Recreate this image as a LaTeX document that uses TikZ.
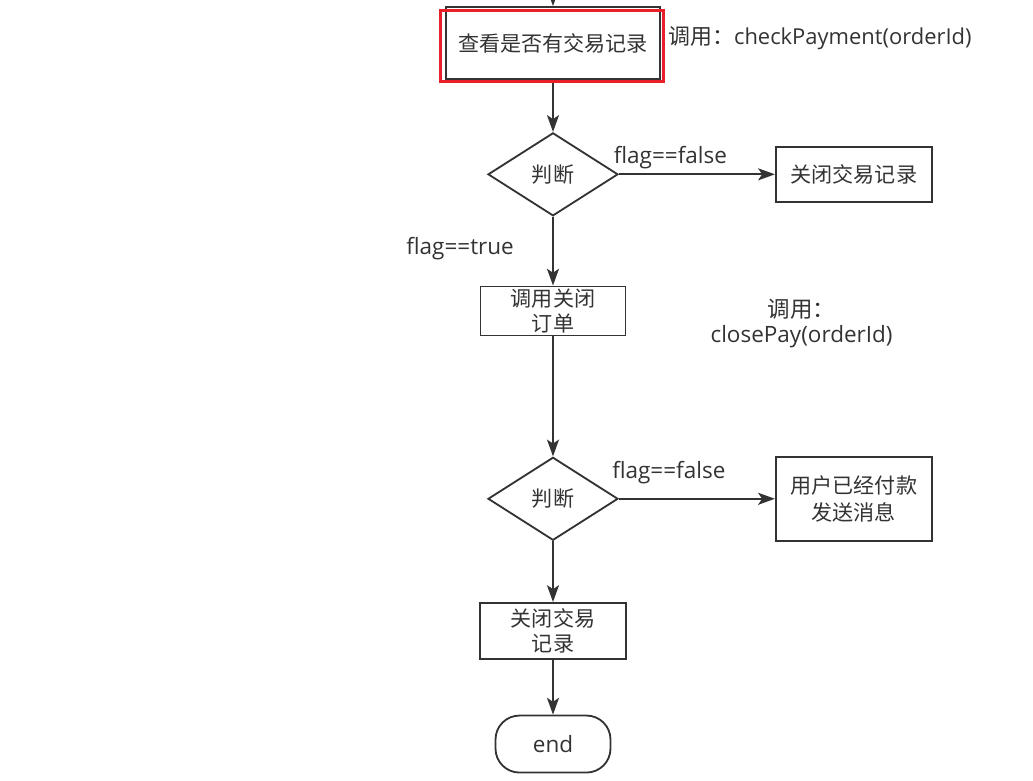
\documentclass[tikz,border=0pt]{standalone}
\usepackage{fontspec}
\setmainfont{Noto Sans CJK SC}
\newfontfamily\latin{Open Sans}
\usetikzlibrary{arrows.meta,positioning,shapes.geometric}
\definecolor{linegray}{HTML}{333333}
\definecolor{textgray}{HTML}{333333}
\definecolor{markred}{HTML}{E8202A}

\begin{document}
\begin{tikzpicture}[
  node distance=13mm and 39mm,
  every node/.style={font=\fontsize{15pt}{18pt}\selectfont, text=textgray},
  box/.style={draw=linegray, line width=1.3pt, minimum width=36.5mm, minimum height=14mm, inner ysep=0pt, align=center},
  decision/.style={diamond, draw=linegray, line width=1.3pt, minimum width=32.5mm, minimum height=20.75mm, inner sep=0pt},
  terminal/.style={draw=linegray, line width=1.3pt, rounded corners=6mm, minimum width=28.75mm, minimum height=14.25mm},
  note/.style={font=\fontsize{16pt}{18pt}\latin},
  flow/.style={draw=linegray, line width=1.3pt},
  >={Stealth[length=4.2mm,width=3mm,inset=1mm]}
]
\useasboundingbox (0,0) rectangle (25.825,-19.5);

% main column
\node[box, minimum width=53.5mm, minimum height=18mm] (check) at (13.825,-1.075) {查看是否有交易记录};
\node[decision, below=13mm of check] (judge1) {判断};
\node[box, below=17.2mm of judge1, minimum width=36.25mm, minimum height=12.25mm] (closeorder) {调用关闭\\订单};
\node[decision, below=30mm of closeorder] (judge2) {判断};
\node[box, below=15.2mm of judge2] (closerec2) {关闭交易\\记录};
\node[terminal, below=13.7mm of closerec2, note] (end) {end};

% side branches
\node[box, right=39mm of judge1, minimum width=39mm, minimum height=13.75mm] (closerec) {关闭交易记录};
\node[box, right=39mm of judge2, minimum width=39mm, minimum height=21mm, font=\fontsize{15pt}{19.5pt}\selectfont] (paid) {用户已经付款\\发送消息};

% notes
\node[anchor=west, note, font=\fontsize{15.6pt}{18pt}\latin] (checknote) at ([xshift=0.6mm,yshift=1.1mm]check.east) {\rmfamily 调用：\latin checkPayment(orderId)};
\node[right=19.8mm of closeorder, yshift=-3.1mm, align=center, note] (closenote) {\rmfamily 调用：\\closePay(orderId)};

% arrows
\coordinate (entry) at ([yshift=4mm]check.north);
\draw[flow, ->] (entry) -- (check);
\draw[flow, ->] (check) -- (judge1);
\draw[flow, ->] (judge1) -- node[above, pos=0.33, note]{flag==false} (closerec);
\draw[flow, ->] (judge1) -- node[left=8.4mm, pos=0.46, note]{flag==true} (closeorder);
\draw[flow, ->] (closeorder) -- (judge2);
\draw[flow, ->] (judge2) -- node[above, pos=0.32, yshift=2.2mm, note]{flag==false} (paid);
\draw[flow, ->] (judge2) -- (closerec2);
\draw[flow, ->] (closerec2) -- (end);

% red mark
\draw[markred, line width=2.1pt] ([shift={(-1.1mm,-0.4mm)}]check.south west) rectangle ([shift={(0.6mm,-1.1mm)}]check.north east);
\end{tikzpicture}
\end{document}
